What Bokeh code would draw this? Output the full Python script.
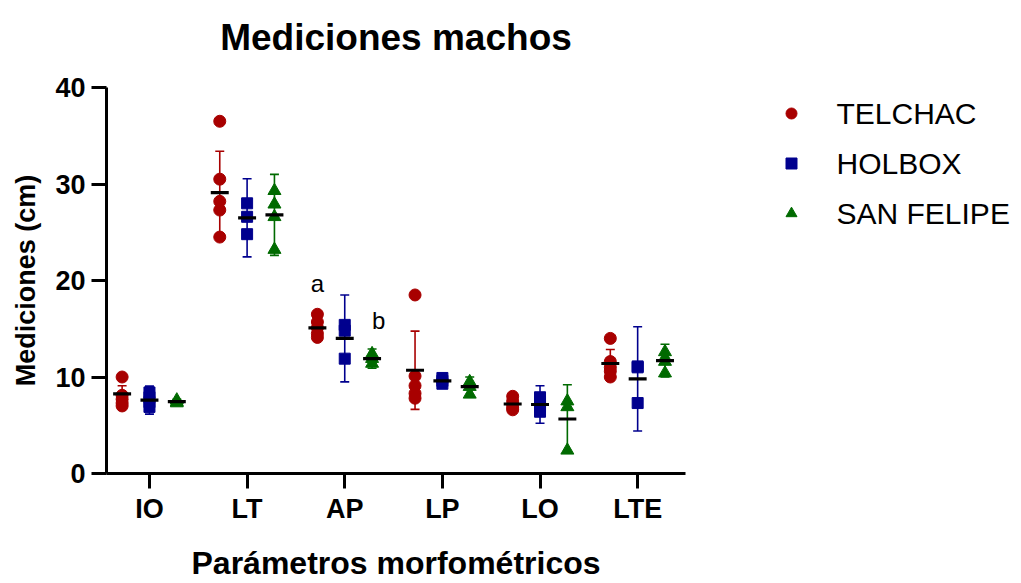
import numpy as np
from bokeh.plotting import figure
from bokeh.layouts import column, row
from bokeh.models import Range1d, FixedTicker
from bokeh.core.properties import value
from bokeh.embed import file_html
from bokeh.resources import INLINE

# Morphometric parameters (x axis categories)
categories = ["IO", "LT", "AP", "LP", "LO", "LTE"]
y_ticks = [0, 10, 20, 30, 40]

# Individual measurements (cm) per site, one list per parameter
telchac_values = [
    [10.0, 8.1, 7.7, 7.3, 7.0],
    [36.5, 30.5, 28.2, 27.3, 24.5],
    [16.5, 15.7, 15.1, 14.5, 14.1],
    [18.5, 10.1, 9.1, 8.3, 7.8],
    [8.0, 7.5, 7.1, 6.8, 6.6],
    [14.0, 11.6, 11.0, 10.6, 10.0],
]
holbox_values = [
    [8.4, 7.9, 7.4, 6.9],
    [28.0, 26.6, 24.8],
    [15.4, 14.8, 11.9],
    [9.9, 9.6, 9.3],
    [7.9, 7.4, 6.9, 6.4],
    [11.1, 11.0, 7.3],
]
sanfelipe_values = [
    [7.6, 7.4, 7.3],
    [29.3, 27.9, 26.6, 23.2],
    [12.4, 11.9, 11.4],
    [9.5, 9.0, 8.2],
    [7.5, 6.9, 2.4],
    [12.6, 12.0, 11.6, 10.4],
]

# Group centre line and error bar half-width per parameter
telchac_mean = [8.25, 29.1, 15.1, 10.7, 7.2, 11.4]
telchac_err = [0.85, 4.3, 0.9, 4.05, 0.6, 1.45]
holbox_mean = [7.6, 26.5, 14.0, 9.6, 7.15, 9.8]
holbox_err = [1.45, 4.05, 4.5, 0.4, 1.95, 5.4]
sanfelipe_mean = [7.45, 26.8, 11.9, 9.0, 5.65, 11.7]
sanfelipe_err = [0.25, 4.2, 1.0, 1.0, 3.55, 1.7]

# Significance letters on AP
letters = ["a", "b"]

sites = [
    ("TELCHAC", telchac_values, telchac_mean, telchac_err, "#A80000", "circle", 12, -0.28),
    ("HOLBOX", holbox_values, holbox_mean, holbox_err, "#00008E", "square", 11, 0.0),
    ("SAN FELIPE", sanfelipe_values, sanfelipe_mean, sanfelipe_err, "#006A00", "triangle", 13, 0.28),
]

FONT = "Liberation Sans"
PAGE_W = 1021
TOP_H = 67
MAIN_W = 700
BODY_H = 583 - TOP_H
BORDER_TOP, BORDER_BOTTOM = 20, 110
FRAME_TOP = TOP_H + BORDER_TOP          # page pixel row of the plot frame top
FRAME_BOTTOM = 583 - BORDER_BOTTOM      # page pixel row of the plot frame bottom


def bare(fig):
    fig.grid.visible = False
    fig.axis.visible = False
    fig.outline_line_color = None
    fig.background_fill_color = "white"
    fig.border_fill_color = "white"


# --- title strip (pixel-unit ranges, y downward) ---
head = figure(width=PAGE_W, height=TOP_H, x_range=Range1d(0, PAGE_W), y_range=Range1d(TOP_H, 0),
              output_backend="svg", toolbar_location=None, min_border=0)
bare(head)
head.text(x=[395.5], y=[37], text=["Mediciones machos"], text_font=value(FONT),
          text_font_size="37px", text_font_style="bold", text_align="center",
          text_baseline="alphabetic", text_color="black")

# --- main chart ---
p = figure(
    width=MAIN_W, height=BODY_H,
    x_range=Range1d(-0.44, 5.49), y_range=Range1d(0, 40),
    output_backend="svg", toolbar_location=None,
    min_border_left=106, min_border_right=15,
    min_border_top=BORDER_TOP, min_border_bottom=BORDER_BOTTOM,
)
p.grid.visible = False
p.outline_line_color = None
p.background_fill_color = "white"
p.border_fill_color = "white"

for ax in (p.xaxis[0], p.yaxis[0]):
    ax.axis_line_width = 3
    ax.axis_line_color = "black"
    ax.major_tick_line_width = 3
    ax.major_tick_line_color = "black"
    ax.major_tick_out = 15
    ax.major_tick_in = 0
    ax.minor_tick_line_color = None
    ax.major_label_text_font = FONT
    ax.major_label_text_font_style = "bold"
    ax.major_label_text_font_size = "27px"
    ax.major_label_text_color = "black"
    ax.axis_label_text_font = FONT
    ax.axis_label_text_font_style = "bold"
    ax.axis_label_text_color = "black"

p.xaxis.ticker = FixedTicker(ticks=list(range(len(categories))))
p.xaxis.major_label_overrides = {i: c for i, c in enumerate(categories)}
p.xaxis.major_label_standoff = 5
p.xaxis.axis_label = "Parámetros morfométricos"
p.xaxis.axis_label_text_font_size = "32px"
p.xaxis.axis_label_standoff = 18

p.yaxis.ticker = FixedTicker(ticks=y_ticks)
p.yaxis.major_label_standoff = 6
p.yaxis.axis_label = "Mediciones (cm)"
p.yaxis.axis_label_text_font_size = "27px"
p.yaxis.axis_label_standoff = 11

idx = np.arange(len(categories))
cap = 0.046
half_mean = 0.092

for name, vals, mean, err, color, marker, size, off in sites:
    xc = idx + off
    mean = np.array(mean)
    err = np.array(err)
    # error bars with caps
    p.segment(xc, mean - err, xc, mean + err, line_color=color, line_width=1.6)
    p.segment(xc - cap, mean + err, xc + cap, mean + err, line_color=color, line_width=1.6)
    p.segment(xc - cap, mean - err, xc + cap, mean - err, line_color=color, line_width=1.6)
    # individual points
    px = np.concatenate([np.full(len(v), i + off) for i, v in enumerate(vals)])
    py = np.concatenate([np.array(v) for v in vals])
    p.scatter(px, py, marker=marker, size=size, fill_color=color, line_color=color)
    # centre line
    p.segment(xc - half_mean, mean, xc + half_mean, mean, line_color="black", line_width=3.2)

# letters above Telchac and San Felipe on AP
ap = categories.index("AP")
p.text(x=[ap - 0.28, ap + 0.347], y=[19.7, 15.85], text=letters,
       text_font=value(FONT), text_font_size="24px", text_align="center",
       text_baseline="middle", text_color="black")

# --- key panel: frame shares the main frame's rows; ranges in page pixels ---
side = figure(width=PAGE_W - MAIN_W, height=BODY_H,
              x_range=Range1d(MAIN_W, PAGE_W), y_range=Range1d(FRAME_BOTTOM, FRAME_TOP),
              output_backend="svg", toolbar_location=None,
              min_border_left=0, min_border_right=0,
              min_border_top=BORDER_TOP, min_border_bottom=BORDER_BOTTOM)
bare(side)
key_marker_x, key_label_x = 791, 836
key_first_row, key_row_step = 113, 50
for i, (name, _, _, _, color, marker, _, _) in enumerate(sites):
    ky = key_first_row + i * key_row_step
    side.scatter([key_marker_x], [ky], marker=marker, size=11, fill_color=color, line_color=color)
    side.text(x=[key_label_x], y=[ky], text=[name], text_font=value(FONT),
              text_font_size="30px", text_align="left", text_baseline="middle",
              text_color="black")

layout = column(head, row(p, side, spacing=0), spacing=0)

open("out.html", "w").write(file_html(layout, INLINE))
